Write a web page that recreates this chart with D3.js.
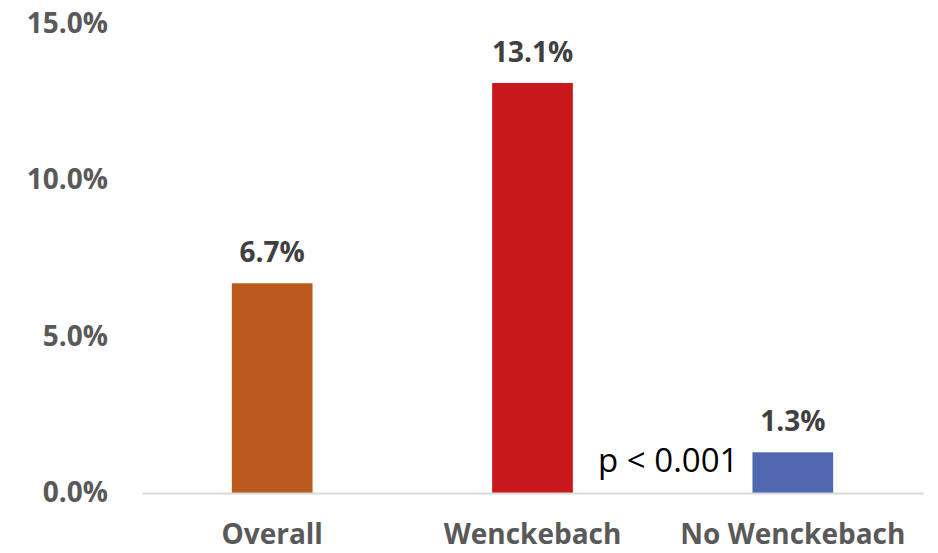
<!DOCTYPE html>
<html>
<head>
<meta charset="utf-8">
<script src="https://cdn.jsdelivr.net/npm/d3@7"></script>
<style>
  html, body { margin: 0; padding: 0; background: #ffffff; }
  svg { display: block; }
</style>
</head>
<body>
<svg id="chart" width="938" height="553"></svg>
<script>
// Incidence by group
const categories = ["Overall", "Wenckebach", "No Wenckebach"];
const values = [6.7, 13.1, 1.3];
const barColors = ["#B95B1F", "#C8181C", "#5068B0"];
const yTicks = [0, 5, 10, 15];
const pLabel = "p < 0.001";

const svg = d3.select("#chart");
const plot = { left: 142, right: 923, top: 23.5, bottom: 493 };
const fontFamily = "'Open Sans', 'DejaVu Sans', sans-serif";

const x = d3.scaleBand()
  .domain(categories)
  .range([plot.left, plot.right])
  .paddingInner(0.69)
  .paddingOuter(0.345);

const y = d3.scaleLinear()
  .domain([0, 15])
  .range([plot.bottom, plot.top]);

// Y axis: labels only
const yAxis = svg.append("g")
  .attr("transform", `translate(${plot.left},0)`)
  .call(d3.axisLeft(y)
    .tickValues(yTicks)
    .tickFormat(d => d.toFixed(1) + "%")
    .tickSize(0)
    .tickPadding(34));
yAxis.select(".domain").remove();
yAxis.selectAll("text")
  .attr("fill", "#595959")
  .style("font-family", fontFamily)
  .style("font-weight", "700")
  .style("font-size", "28px");

// Bars
svg.append("g").selectAll("rect")
  .data(categories)
  .join("rect")
  .attr("x", d => x(d))
  .attr("width", x.bandwidth())
  .attr("y", (d, i) => y(values[i]))
  .attr("height", (d, i) => y(0) - y(values[i]))
  .attr("fill", (d, i) => barColors[i]);

// X axis: baseline and category labels
const xAxis = svg.append("g")
  .attr("transform", `translate(0,${plot.bottom})`)
  .call(d3.axisBottom(x).tickSize(0).tickSizeOuter(0).tickPadding(31));
xAxis.select(".domain")
  .attr("stroke", "#D9D9D9")
  .attr("stroke-width", 2);
xAxis.selectAll("text")
  .attr("fill", "#595959")
  .style("font-family", fontFamily)
  .style("font-weight", "700")
  .style("font-size", "28px");

// Value labels above bars
svg.append("g").selectAll("text")
  .data(categories)
  .join("text")
  .attr("x", d => x(d) + x.bandwidth() / 2)
  .attr("y", (d, i) => y(values[i]) - 21)
  .attr("text-anchor", "middle")
  .attr("fill", "#404040")
  .style("font-family", fontFamily)
  .style("font-weight", "700")
  .style("font-size", "28px")
  .text((d, i) => values[i].toFixed(1) + "%");

// Significance note beside the last bar
svg.append("text")
  .attr("x", x(categories[2]) - 14)
  .attr("y", y(values[2]) + 20)
  .attr("text-anchor", "end")
  .attr("fill", "#000000")
  .style("font-family", fontFamily)
  .style("font-size", "33px")
  .text(pLabel);
</script>
</body>
</html>
